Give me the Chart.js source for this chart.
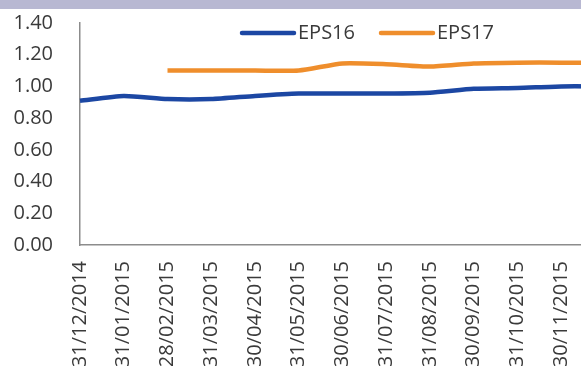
<!DOCTYPE html>
<html>
<head>
<meta charset="utf-8">
<script src="https://cdn.jsdelivr.net/npm/chart.js@4/dist/chart.umd.min.js"></script>
<style>
  html, body { margin: 0; padding: 0; background: #fff; overflow: hidden; width: 581px; height: 366px; }
  #wrap { position: relative; width: 581px; height: 366px; overflow: hidden; }
  #band { position: absolute; left: 0; top: 0; width: 581px; height: 9px; background: #b8b8d2; z-index: 2; }
  canvas { position: absolute; left: 0; top: 0; }
</style>
</head>
<body>
<div id="wrap">
  <div id="band"></div>
  <canvas id="c" width="638" height="400"></canvas>
</div>
<script>
// Month-end dates
const dates = [
  '31/12/2014', '31/01/2015', '28/02/2015', '31/03/2015', '30/04/2015',
  '31/05/2015', '30/06/2015', '31/07/2015', '31/08/2015', '30/09/2015',
  '31/10/2015', '30/11/2015', '31/12/2015'
];

// Consensus EPS estimates
const eps16 = [0.91, 0.94, 0.92, 0.92, 0.94, 0.955, 0.955, 0.955, 0.96, 0.985, 0.99, 1.00, 1.00];
const eps17 = [null, null, 1.10, 1.10, 1.10, 1.10, 1.145, 1.14, 1.125, 1.145, 1.15, 1.15, 1.15];

const seriesNames = ['EPS16', 'EPS17'];
const seriesColors = ['#1c47a3', '#ef8e2c'];

const FONT = "'Open Sans', 'DejaVu Sans', sans-serif";
const TEXT = '#3a3a3a';
const AXIS = '#8c8c8c';

// Legend drawn inside the plot area, across the top
const insideLegend = {
  id: 'insideLegend',
  afterDraw(chart) {
    const ctx = chart.ctx;
    ctx.save();
    ctx.font = '20px ' + FONT;
    ctx.textBaseline = 'middle';
    ctx.textAlign = 'left';
    let x = 242;
    const y = 33;
    chart.data.datasets.forEach((ds) => {
      ctx.strokeStyle = ds.borderColor;
      ctx.lineWidth = 4.5;
      ctx.lineCap = 'round';
      ctx.beginPath();
      ctx.moveTo(x, y);
      ctx.lineTo(x + 52, y);
      ctx.stroke();
      ctx.fillStyle = TEXT;
      ctx.fillText(ds.label, x + 56, y);
      x += 56 + ctx.measureText(ds.label).width + 26;
    });
    ctx.restore();
  }
};

new Chart(document.getElementById('c'), {
  type: 'line',
  data: {
    labels: dates,
    datasets: [
      { label: seriesNames[0], data: eps16, borderColor: seriesColors[0], backgroundColor: seriesColors[0],
        borderWidth: 4.5, pointRadius: 0, tension: 0.2, spanGaps: false },
      { label: seriesNames[1], data: eps17, borderColor: seriesColors[1], backgroundColor: seriesColors[1],
        borderWidth: 4.5, pointRadius: 0, tension: 0.2, spanGaps: false }
    ]
  },
  options: {
    responsive: false,
    animation: false,
    devicePixelRatio: 1,
    layout: { padding: { top: 23, right: 12, left: 0, bottom: 0 } },
    plugins: { legend: { display: false }, tooltip: { enabled: false } },
    scales: {
      x: {
        type: 'category',
        offset: false,
        grid: { display: false, drawOnChartArea: false, drawTicks: true, tickLength: 7, tickColor: AXIS, tickWidth: 1.2 },
        border: { display: true, color: AXIS, width: 1.5 },
        ticks: {
          color: TEXT, font: { family: FONT, size: 20 },
          minRotation: 90, maxRotation: 90, autoSkip: false, padding: 9
        },
        afterFit(scale) { scale.height = 155; }
      },
      y: {
        min: 0, max: 1.4,
        // tick marks are hidden; their length only sets the label gap
        grid: { display: false, drawTicks: true, tickLength: 27 },
        border: { display: true, color: AXIS, width: 1.5 },
        ticks: {
          stepSize: 0.2, color: TEXT, font: { family: FONT, size: 20 }, padding: 0,
          callback: v => Number(v).toFixed(2)
        },
        afterFit(scale) { scale.width = 80; }
      }
    }
  },
  plugins: [insideLegend]
});
</script>
</body>
</html>
